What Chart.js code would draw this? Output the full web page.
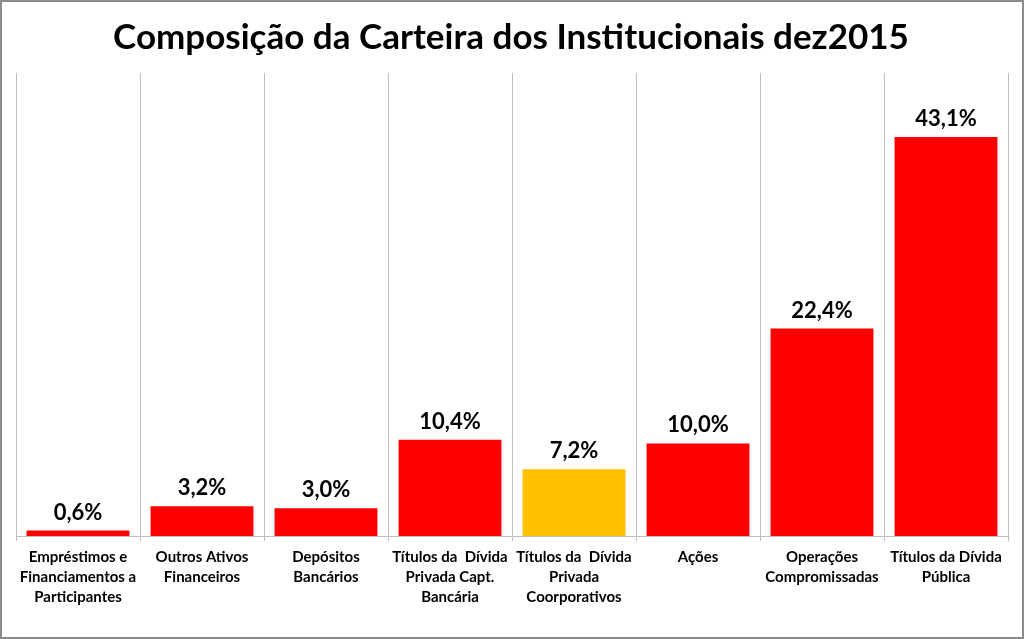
<!DOCTYPE html>
<html>
<head>
<meta charset="utf-8">
<script src="https://cdn.jsdelivr.net/npm/chart.js@4"></script>
<style>
  html, body { margin: 0; padding: 0; background: #fff; }
  #wrap { width: 1024px; height: 639px; position: relative; }
</style>
</head>
<body>
<div id="wrap"><canvas id="chart" width="1024" height="639"></canvas></div>
<script>
// chart data
var categories = [
    ['Empréstimos e', 'Financiamentos a', 'Participantes'],
    ['Outros Ativos', 'Financeiros'],
    ['Depósitos', 'Bancários'],
    ['Títulos da  Dívida', 'Privada Capt.', 'Bancária'],
    ['Títulos da  Dívida', 'Privada', 'Coorporativos'],
    ['Ações'],
    ['Operações', 'Compromissadas'],
    ['Títulos da Dívida', 'Pública']
];
var shares = [0.6, 3.2, 3.0, 10.4, 7.2, 10.0, 22.4, 43.1];
var barColors = ['#ff0000', '#ff0000', '#ff0000', '#ff0000', '#ffc000', '#ff0000', '#ff0000', '#ff0000'];
var chartTitle = 'Composição da Carteira dos Institucionais dez2015';

var FONT = "Lato, 'Open Sans', sans-serif";

// white background, grey frame and the title
var framePlugin = {
    id: 'frame',
    beforeDraw: function(chart) {
        var ctx = chart.ctx;
        ctx.save();
        ctx.fillStyle = '#ffffff';
        ctx.fillRect(0, 0, chart.width, chart.height);
        ctx.restore();
    },
    afterDraw: function(chart) {
        var ctx = chart.ctx;
        ctx.save();
        ctx.strokeStyle = '#8c8c8c';
        ctx.lineWidth = 2;
        ctx.strokeRect(1, 1, chart.width - 2, chart.height - 2);
        ctx.fillStyle = '#000000';
        ctx.font = 'bold 35px ' + FONT;
        ctx.textAlign = 'center';
        ctx.textBaseline = 'middle';
        ctx.fillText(chartTitle, 511, 38);
        ctx.restore();
    }
};

// value labels above each bar
var valueLabels = {
    id: 'valueLabels',
    afterDatasetsDraw: function(chart) {
        var ctx = chart.ctx;
        var meta = chart.getDatasetMeta(0);
        ctx.save();
        ctx.fillStyle = '#000000';
        ctx.font = 'bold 22px ' + FONT;
        ctx.textAlign = 'center';
        ctx.textBaseline = 'bottom';
        meta.data.forEach(function(bar, i) {
            var txt = shares[i].toFixed(1).replace('.', ',') + '%';
            ctx.fillText(txt, bar.x, bar.y - 7);
        });
        ctx.restore();
    }
};

new Chart(document.getElementById('chart'), {
    type: 'bar',
    data: {
        labels: categories,
        datasets: [{
            data: shares,
            backgroundColor: barColors,
            borderWidth: 0,
            categoryPercentage: 1,
            barPercentage: 0.83
        }]
    },
    options: {
        responsive: false,
        animation: false,
        layout: { padding: { left: 16, right: 16, top: 73, bottom: 0 } },
        plugins: {
            legend: { display: false },
            tooltip: { enabled: false },
            title: { display: false }
        },
        scales: {
            x: {
                afterFit: function(scale) { scale.height = 103; },
                grid: {
                    display: true,
                    offset: true,
                    color: '#bfbfbf',
                    lineWidth: 1,
                    drawTicks: true,
                    tickLength: 5
                },
                border: { display: true, color: '#bfbfbf', width: 1 },
                ticks: {
                    color: '#000000',
                    font: { family: FONT, size: 15, weight: 'bold', lineHeight: 1.33 },
                    padding: 6,
                    maxRotation: 0,
                    autoSkip: false
                }
            },
            y: {
                display: false,
                min: 0,
                max: 50
            }
        }
    },
    plugins: [framePlugin, valueLabels]
});
</script>
</body>
</html>
